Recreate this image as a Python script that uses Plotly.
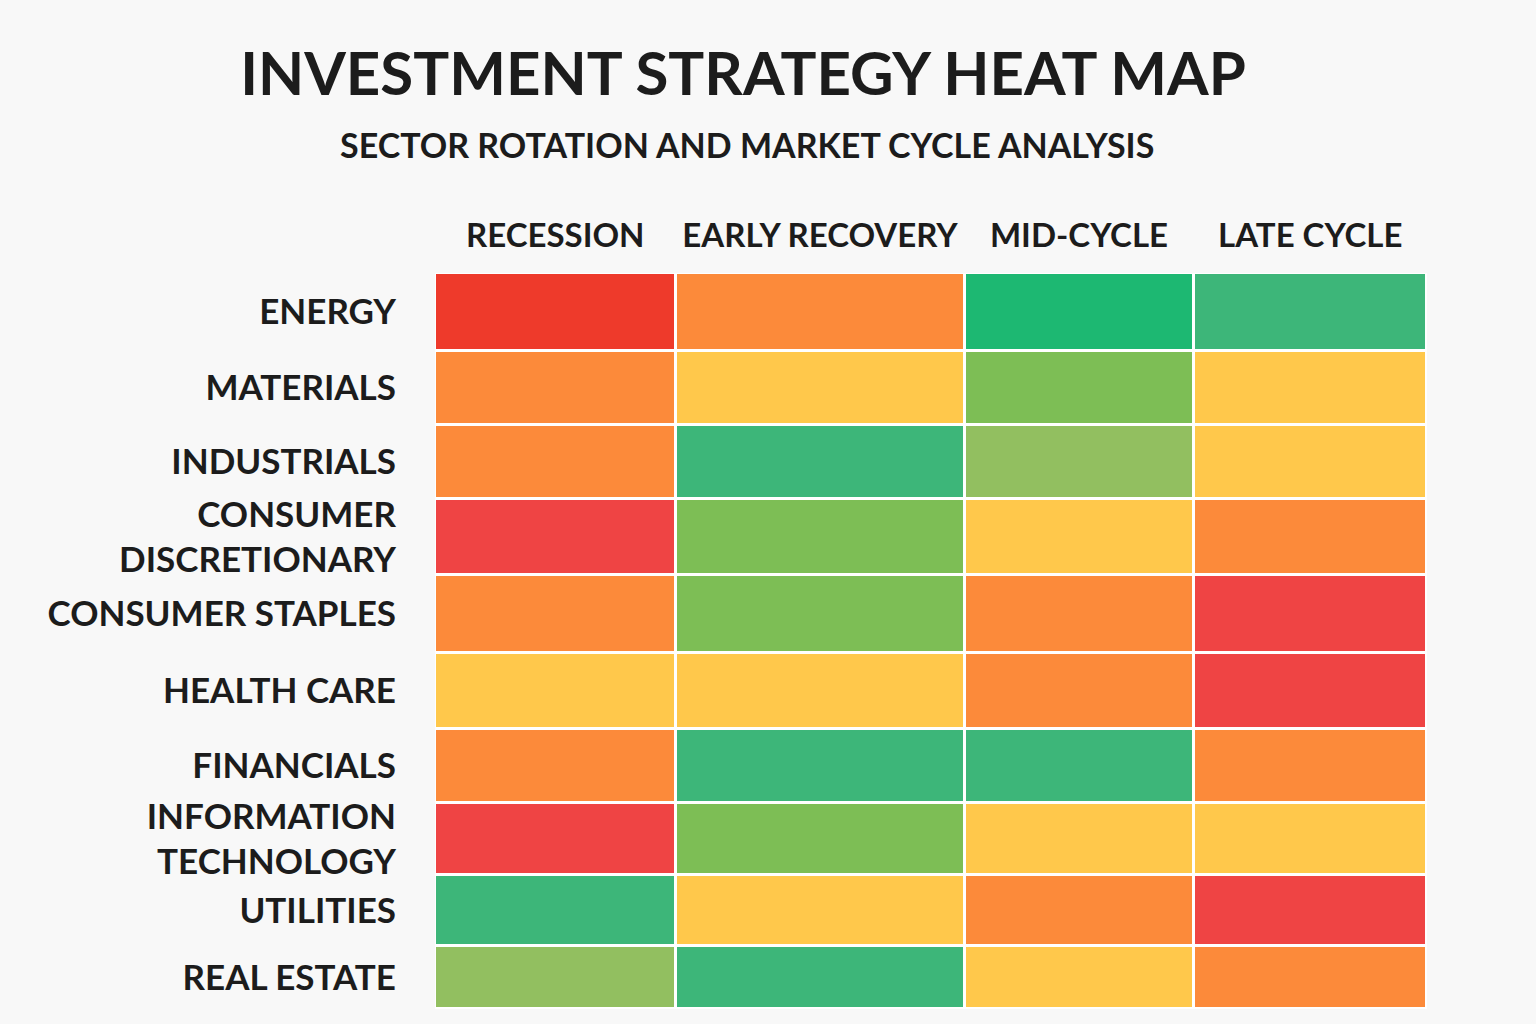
import plotly.graph_objects as go
import numpy as np

# ---- data ----
phases = ["RECESSION", "EARLY RECOVERY", "MID-CYCLE", "LATE CYCLE"]
sectors = ["ENERGY", "MATERIALS", "INDUSTRIALS", "CONSUMER<br>DISCRETIONARY",
           "CONSUMER STAPLES", "HEALTH CARE", "FINANCIALS",
           "INFORMATION<br>TECHNOLOGY", "UTILITIES", "REAL ESTATE"]
# rating levels 1 (strong underweight) .. 8 (strong overweight)
ratings = [
    [1, 3, 8, 7],
    [3, 4, 6, 4],
    [3, 7, 5, 4],
    [2, 6, 4, 3],
    [3, 6, 3, 2],
    [4, 4, 3, 2],
    [3, 7, 7, 3],
    [2, 6, 4, 4],
    [7, 4, 3, 2],
    [5, 7, 4, 3],
]
level_colors = ["#EE3A2B", "#EF4444", "#FC8A3A", "#FFC84B",
                "#92BF60", "#7DBE55", "#3DB679", "#1DB872"]

# ---- layout constants ----
col_widths = [240.5, 289, 229, 233.5]
row_heights = [77.5, 74.5, 74, 76, 78, 76, 74, 72, 71, 63]

x_edges = np.concatenate([[0], np.cumsum(col_widths)])
y_edges = np.concatenate([[0], np.cumsum(row_heights)])
x_centers = (x_edges[:-1] + x_edges[1:]) / 2
y_centers = (y_edges[:-1] + y_edges[1:]) / 2

n = len(level_colors)
colorscale = []
for i, c in enumerate(level_colors):
    colorscale.append([i / n, c])
    colorscale.append([(i + 1) / n, c])

fig = go.Figure(go.Heatmap(
    z=ratings, x=x_edges, y=y_edges,
    colorscale=colorscale, zmin=0.5, zmax=n + 0.5,
    showscale=False, xgap=3, ygap=3, hoverinfo="skip",
))

W, H = 1536, 1024
L, R, T, B = 435, 1536 - 1427, 273, 1024 - 1009
pw, ph = W - L - R, H - T - B

fig.update_layout(
    width=W, height=H,
    margin=dict(l=L, r=R, t=T, b=B),
    paper_bgcolor="#F8F8F8", plot_bgcolor="#FFFFFF",
    font=dict(family="Lato", color="#1C1C1C"),
    title=dict(text="<b>INVESTMENT STRATEGY HEAT MAP</b>",
               x=743 / W, xanchor="center", y=1 - 74 / H, yanchor="middle",
               font=dict(family="Lato", size=60, weight=900, color="#1C1C1C")),
    annotations=[dict(text="<b>SECTOR ROTATION AND MARKET CYCLE ANALYSIS</b>",
                      xref="paper", yref="paper",
                      x=(747 - L) / pw, y=(1009 - 145) / ph,
                      xanchor="center", yanchor="middle", showarrow=False,
                      font=dict(family="Lato", size=34, color="#1C1C1C"))],
    xaxis=dict(range=[0, x_edges[-1]], side="top", tickvals=x_centers,
               ticktext=[f"<b>{p}</b>" for p in phases], showgrid=False,
               zeroline=False, ticks="", ticklabelstandoff=18,
               tickfont=dict(family="Lato", size=33, color="#1C1C1C")),
    yaxis=dict(range=[y_edges[-1], 0], tickvals=y_centers,
               ticktext=[f"<b>{s}</b>" for s in sectors], showgrid=False,
               zeroline=False, ticks="", ticklabelstandoff=38,
               tickfont=dict(family="Lato", size=35, color="#1C1C1C")),
)

fig.write_html("out.html", config={"displayModeBar": False},
               post_script="document.body.style.margin='0';document.body.style.overflow='hidden';")
